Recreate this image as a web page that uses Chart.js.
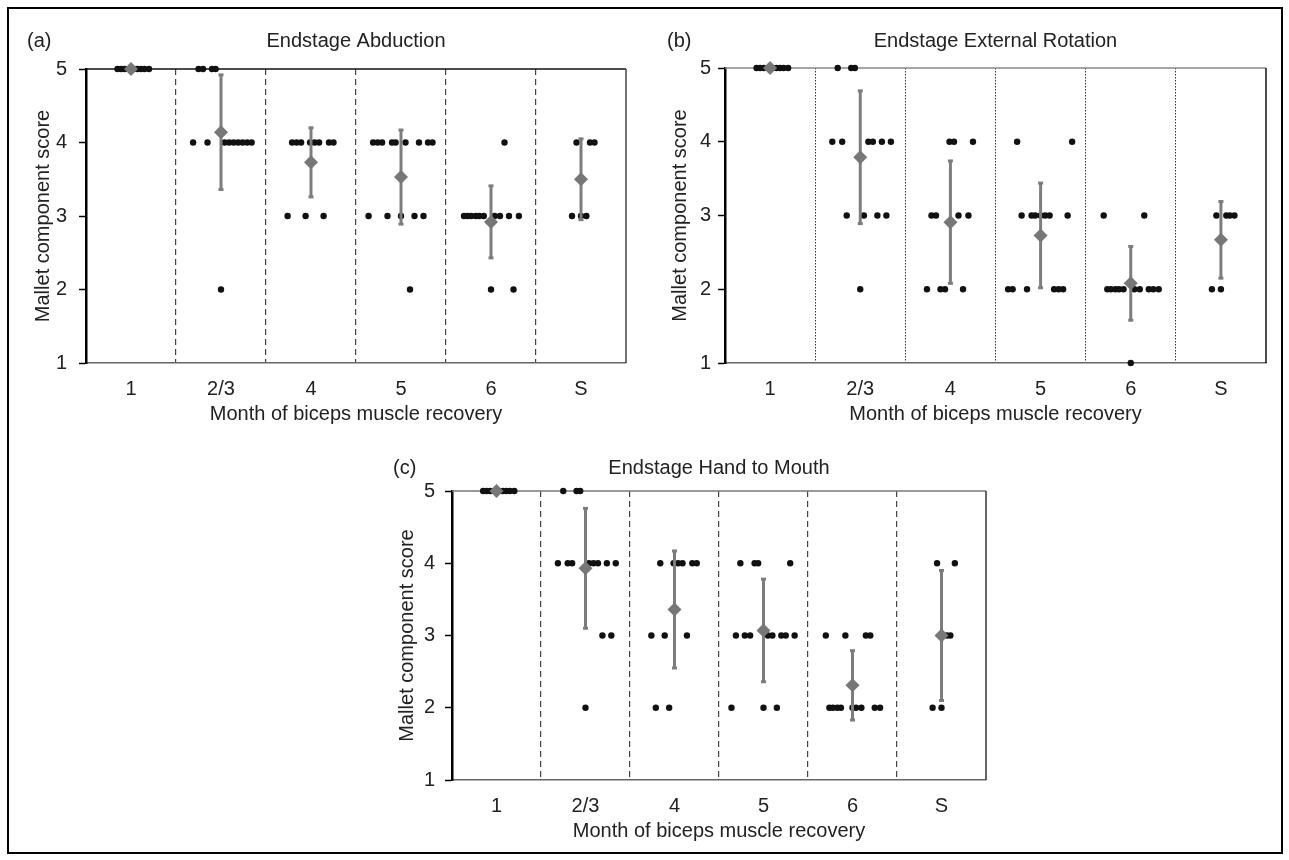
<!DOCTYPE html>
<html>
<head>
<meta charset="utf-8">
<script src="https://cdn.jsdelivr.net/npm/chart.js@4.4.1/dist/chart.umd.min.js"></script>
<style>
  html, body { margin: 0; padding: 0; background: #fff; }
  #frame { position: absolute; left: 7px; top: 7px; width: 1272px; height: 843px; border: 2.5px solid #000; }
  .panel { position: absolute; }
</style>
</head>
<body>
<div id="frame"></div>
<div class="panel" style="left:10px;top:14px;width:630px;height:415px"><canvas id="chart-a"></canvas></div>
<div class="panel" style="left:650px;top:14px;width:630px;height:415px"><canvas id="chart-b"></canvas></div>
<div class="panel" style="left:380px;top:440px;width:620px;height:406px"><canvas id="chart-c"></canvas></div>
<script>
// Kategori bulan pemulihan biseps
const categories = ["1", "2/3", "4", "5", "6", "S"];

// Posisi geser tiap pasien dalam kategorinya (pecahan lebar kategori)
const jitter = [
  [-0.15, -0.11, -0.07, -0.02, 0.02, 0.07, 0.11, 0.15, 0.20],
  [-0.31, -0.25, -0.20, -0.15, -0.10, -0.06, 0, 0.04, 0.09, 0.14, 0.19, 0.24, 0.29, 0.34],
  [-0.26, -0.21, -0.16, -0.11, -0.06, -0.01, 0.04, 0.09, 0.14, 0.20, 0.25],
  [-0.36, -0.31, -0.26, -0.21, -0.15, -0.10, -0.06, 0, 0.05, 0.10, 0.15, 0.20, 0.25, 0.30, 0.35],
  [-0.30, -0.26, -0.22, -0.17, -0.13, -0.08, 0, 0.04, 0.10, 0.15, 0.20, 0.25, 0.31],
  [-0.10, -0.05, 0, 0.06, 0.10, 0.15]
];

// Skor Mallet per pasien (urutan sama dengan jitter)
const abdScores = [
  [5, 5, 5, 5, 5, 5, 5, 5, 5],
  [4, 5, 5, 4, 5, 5, 2, 4, 4, 4, 4, 4, 4, 4],
  [3, 4, 4, 4, 3, 4, 4, 4, 3, 4, 4],
  [3, 4, 4, 4, 3, 4, 4, 3, 4, 2, 3, 4, 3, 4, 4],
  [3, 3, 3, 3, 3, 3, 2, 3, 3, 4, 3, 2, 3],
  [3, 4, 3, 3, 4, 4]
];
const erScores = [
  [5, 5, 5, 5, 5, 5, 5, 5, 5],
  [4, 5, 4, 3, 5, 5, 2, 3, 4, 4, 3, 4, 3, 4],
  [2, 3, 3, 2, 2, 4, 4, 3, 2, 3, 4],
  [2, 2, 4, 3, 2, 3, 3, 3, 3, 3, 2, 2, 2, 3, 4],
  [3, 2, 2, 2, 2, 2, 1, 2, 2, 3, 2, 2, 2],
  [2, 3, 2, 3, 3, 3]
];
const hmScores = [
  [5, 5, 5, 5, 5, 5, 5, 5, 5],
  [4, 5, 4, 4, 5, 5, 2, 4, 4, 4, 3, 4, 3, 4],
  [3, 2, 4, 3, 2, 4, 4, 4, 3, 4, 4],
  [2, 3, 4, 3, 3, 4, 4, 2, 3, 3, 2, 3, 3, 4, 3],
  [3, 2, 2, 2, 2, 3, 2, 2, 2, 3, 3, 2, 2],
  [2, 4, 2, 3, 3, 4]
];

// Rerata dan simpangan baku
const abdMean = [5, 4.14, 3.73, 3.53, 2.92, 3.5];
const abdSd   = [0, 0.78, 0.47, 0.64, 0.49, 0.55];
const erMean  = [5, 3.79, 2.91, 2.73, 2.08, 2.67];
const erSd    = [0, 0.90, 0.83, 0.71, 0.50, 0.52];
const hmMean  = [5, 3.93, 3.36, 3.07, 2.31, 3.0];
const hmSd    = [0, 0.83, 0.81, 0.71, 0.48, 0.90];

const FONT = '"Liberation Sans", Arial, Helvetica, sans-serif';
const TEXT = "#222";
const GREY = "#7d7d7d";

// Judul panel dan huruf (a)/(b)/(c)
const panelText = {
  id: "panelText",
  afterDraw(chart, args, o) {
    const { ctx, chartArea } = chart;
    ctx.save();
    ctx.font = "20px " + FONT;
    ctx.fillStyle = TEXT;
    ctx.textBaseline = "middle";
    ctx.textAlign = "center";
    ctx.fillText(o.title, (chartArea.left + chartArea.right) / 2, chartArea.top - o.gap);
    ctx.textAlign = "left";
    ctx.fillText(o.letter, o.letterX, chartArea.top - o.gap);
    ctx.restore();
  }
};

// Garis atas dan kanan area plot
const frameLines = {
  id: "frameLines",
  beforeDatasetsDraw(chart, args, o) {
    const { ctx, chartArea: a } = chart;
    ctx.save();
    ctx.lineWidth = 1.5;
    ctx.strokeStyle = o.top;
    ctx.beginPath(); ctx.moveTo(a.left, a.top); ctx.lineTo(a.right, a.top); ctx.stroke();
    ctx.strokeStyle = o.right;
    ctx.beginPath(); ctx.moveTo(a.right, a.top); ctx.lineTo(a.right, a.bottom); ctx.stroke();
    ctx.restore();
  }
};

function makePanel(id, cfg) {
  const dots = [];
  cfg.scores.forEach((list, c) => list.forEach((s, k) => dots.push({ x: c + 1 + jitter[c][k], y: s })));

  const datasets = [{
    data: cfg.mean.map((m, c) => ({ x: c + 1, y: m })),
    pointStyle: "rectRot", pointRadius: 7, backgroundColor: "#777", borderWidth: 0,
    order: 0, clip: false
  }];
  cfg.mean.forEach((m, c) => {
    if (!cfg.sd[c]) return;
    datasets.push({
      data: [{ x: c + 1, y: m - cfg.sd[c] }, { x: c + 1, y: m + cfg.sd[c] }],
      showLine: true, borderColor: GREY, borderWidth: 3,
      pointStyle: "line", pointRadius: 2.5, pointBorderColor: GREY, pointBorderWidth: 3,
      order: 1, clip: false
    });
  });
  datasets.push({
    data: dots, pointRadius: 3.2, backgroundColor: "#111", borderWidth: 0, order: 2, clip: false
  });

  const tickVals = [];
  for (let v = 0.5; v <= 6.5; v += 0.5) tickVals.push(v);

  new Chart(document.getElementById(id), {
    type: "scatter",
    data: { datasets },
    plugins: [panelText, frameLines],
    options: {
      responsive: true,
      maintainAspectRatio: false,
      animation: false,
      layout: { padding: { top: cfg.padTop, right: cfg.padRight, left: 0, bottom: 0 } },
      plugins: {
        legend: { display: false },
        tooltip: { enabled: false },
        panelText: { title: cfg.title, letter: cfg.letter, letterX: cfg.letterX, gap: cfg.gap },
        frameLines: { top: cfg.topColor, right: cfg.rightColor }
      },
      scales: {
        x: {
          type: "linear", min: 0.5, max: 6.5,
          afterBuildTicks: s => { s.ticks = tickVals.map(v => ({ value: v })); },
          afterFit: s => { s.height = 66; },
          ticks: {
            autoSkip: false, maxRotation: 0, padding: 14,
            font: { family: FONT, size: 20 }, color: TEXT,
            callback: v => Number.isInteger(v) ? categories[v - 1] : ""
          },
          grid: {
            drawTicks: false, lineWidth: cfg.gridWidth,
            color: c => (c.tick && c.tick.value % 1 !== 0 && c.tick.value > 1 && c.tick.value < 6) ? cfg.gridColor : "rgba(0,0,0,0)"
          },
          border: { color: "#666", width: 1.5, dash: cfg.dash },
          title: {
            display: true, text: "Month of biceps muscle recovery",
            font: { family: FONT, size: 20 }, color: TEXT, padding: { top: 0, bottom: 2.5 }
          }
        },
        y: {
          min: 1, max: 5,
          afterFit: s => { s.width = cfg.yWidth; },
          ticks: { stepSize: 1, padding: cfg.yTickPad, font: { family: FONT, size: 20 }, color: TEXT },
          grid: { drawOnChartArea: false, drawTicks: true, tickLength: 7, tickColor: "#000", tickWidth: 1.5 },
          border: { color: "#000", width: 2.5 },
          title: {
            display: true, text: "Mallet component score",
            font: { family: FONT, size: 20 }, color: TEXT, padding: { top: cfg.yTitlePad, bottom: 0 }
          }
        }
      }
    }
  });
}

makePanel("chart-a", {
  scores: abdScores, mean: abdMean, sd: abdSd,
  title: "Endstage Abduction", letter: "(a)", letterX: 17, gap: 28,
  padTop: 55, padRight: 11, yWidth: 76, yTickPad: 12, yTitlePad: 21,
  dash: [6, 4], gridColor: "#444", gridWidth: 1.2, topColor: "#111", rightColor: "#444"
});
makePanel("chart-b", {
  scores: erScores, mean: erMean, sd: erSd,
  title: "Endstage External Rotation", letter: "(b)", letterX: 17, gap: 27,
  padTop: 54, padRight: 11, yWidth: 75, yTickPad: 7, yTitlePad: 18,
  dash: [1.5, 1.5], gridColor: "#333", gridWidth: 1, topColor: "#888", rightColor: "#111"
});
makePanel("chart-c", {
  scores: hmScores, mean: hmMean, sd: hmSd,
  title: "Endstage Hand to Mouth", letter: "(c)", letterX: 13, gap: 23,
  padTop: 51, padRight: 12, yWidth: 72, yTickPad: 10, yTitlePad: 15,
  dash: [6, 4], gridColor: "#444", gridWidth: 1.2, topColor: "#777", rightColor: "#333"
});
</script>
</body>
</html>
